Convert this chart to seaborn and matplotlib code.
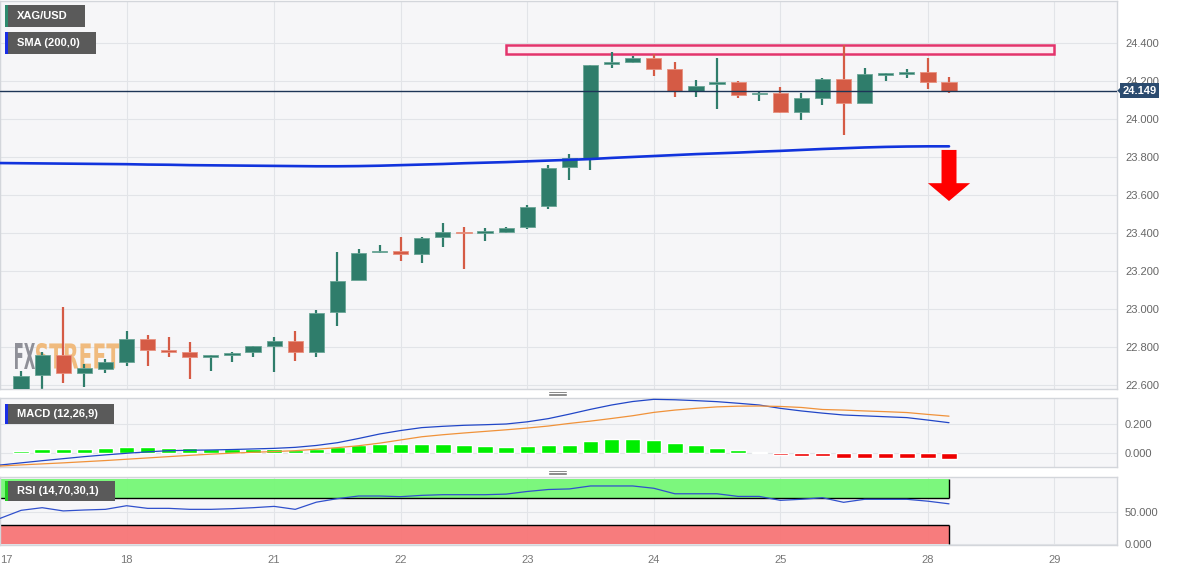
import numpy as np
import pandas as pd
import matplotlib
matplotlib.use('Agg')
import matplotlib.pyplot as plt
import seaborn as sns
from matplotlib.patches import Rectangle, FancyArrow, PathPatch, Polygon
from matplotlib.textpath import TextPath
from matplotlib.font_manager import FontProperties
from matplotlib.transforms import Affine2D, blended_transform_factory
from matplotlib.lines import Line2D

# XAG/USD 4h candles, first candle = 17th 04:00
opens = [22.570, 22.653, 22.758, 22.665, 22.684, 22.719, 22.841, 22.782, 22.774, 22.746,
         22.758, 22.774, 22.805, 22.832, 22.775, 22.983, 23.151, 23.298, 23.307, 23.289,
         23.377, 23.407, 23.400, 23.405, 23.430, 23.542, 23.746, 23.793, 24.289, 24.302,
         24.321, 24.262, 24.147, 24.183, 24.193, 24.130, 24.135, 24.038, 24.109, 24.209,
         24.086, 24.235, 24.238, 24.246, 24.193]
highs = [22.674, 22.775, 23.012, 22.709, 22.735, 22.884, 22.863, 22.854, 22.825, 22.758,
         22.775, 22.805, 22.854, 22.884, 22.995, 23.302, 23.316, 23.337, 23.377, 23.381,
         23.451, 23.433, 23.425, 23.430, 23.547, 23.756, 23.816, 24.283, 24.354, 24.332,
         24.342, 24.300, 24.205, 24.319, 24.200, 24.147, 24.167, 24.139, 24.214, 24.389,
         24.267, 24.242, 24.262, 24.319, 24.219]
lows = [22.540, 22.574, 22.612, 22.588, 22.665, 22.702, 22.702, 22.749, 22.632, 22.674,
        22.723, 22.749, 22.670, 22.728, 22.746, 22.912, 23.151, 23.296, 23.254, 23.244,
        23.325, 23.209, 23.360, 23.398, 23.423, 23.528, 23.679, 23.732, 24.267, 24.293,
        24.228, 24.118, 24.118, 24.053, 24.112, 24.095, 24.033, 23.995, 24.075, 23.916,
        24.083, 24.200, 24.217, 24.158, 24.139]
closes = [22.649, 22.758, 22.665, 22.691, 22.719, 22.841, 22.784, 22.777, 22.746, 22.758,
          22.770, 22.805, 22.832, 22.775, 22.981, 23.149, 23.293, 23.307, 23.291, 23.372,
          23.404, 23.398, 23.407, 23.426, 23.538, 23.740, 23.793, 24.283, 24.298, 24.319,
          24.265, 24.147, 24.175, 24.193, 24.126, 24.138, 24.038, 24.109, 24.211, 24.086,
          24.235, 24.242, 24.247, 24.196, 24.149]

# indicators start one candle earlier (17th 00:00, at the left edge)
sma200 = [23.768, 23.767, 23.766, 23.765, 23.764, 23.763, 23.762, 23.760, 23.759, 23.757,
          23.756, 23.755, 23.754, 23.753, 23.752, 23.751, 23.751, 23.752, 23.754, 23.757,
          23.760, 23.763, 23.767, 23.770, 23.773, 23.777, 23.781, 23.785, 23.789, 23.795,
          23.800, 23.805, 23.810, 23.815, 23.819, 23.823, 23.828, 23.832, 23.837, 23.842,
          23.846, 23.850, 23.853, 23.855, 23.856, 23.856]
macd_line = [-0.083, -0.068, -0.053, -0.039, -0.025, -0.013, -0.002, 0.008, 0.016, 0.019,
             0.021, 0.024, 0.028, 0.032, 0.039, 0.052, 0.071, 0.100, 0.131, 0.155,
             0.175, 0.184, 0.191, 0.195, 0.200, 0.215, 0.237, 0.268, 0.301, 0.331,
             0.355, 0.370, 0.367, 0.361, 0.354, 0.343, 0.331, 0.308, 0.290, 0.275,
             0.262, 0.256, 0.250, 0.244, 0.227, 0.209]
macd_signal = [-0.090, -0.082, -0.075, -0.068, -0.060, -0.052, -0.043, -0.034, -0.025, -0.016,
               -0.008, -0.001, 0.005, 0.010, 0.016, 0.026, 0.037, 0.050, 0.068, 0.090,
               0.112, 0.126, 0.138, 0.149, 0.160, 0.172, 0.186, 0.204, 0.220, 0.238,
               0.257, 0.280, 0.296, 0.308, 0.318, 0.323, 0.324, 0.321, 0.314, 0.300,
               0.296, 0.290, 0.285, 0.279, 0.266, 0.254]
macd_hist = [0.014, 0.028, 0.028, 0.030, 0.032, 0.041, 0.041, 0.037, 0.032, 0.028,
             0.025, 0.025, 0.025, 0.021, 0.030, 0.041, 0.055, 0.064, 0.064, 0.064,
             0.060, 0.055, 0.048, 0.041, 0.048, 0.053, 0.055, 0.083, 0.097, 0.099,
             0.090, 0.069, 0.053, 0.034, 0.018, 0.004, -0.014, -0.023, -0.023, -0.034,
             -0.034, -0.034, -0.034, -0.034, -0.041]
rsi = [39.5, 51.8, 55.8, 50.9, 52.3, 53.3, 58.8, 54.8, 54.8, 53.3,
       53.3, 54.3, 55.8, 57.8, 53.3, 64.2, 69.6, 73.6, 73.6, 72.6,
       74.6, 75.6, 75.6, 75.6, 76.5, 80.5, 83.5, 84.4, 88.9, 88.9,
       88.9, 85.4, 77.0, 77.0, 77.0, 73.0, 73.0, 67.0, 68.6, 71.0,
       64.0, 68.6, 68.6, 68.6, 65.7, 61.7]

day_labels = ['17', '18', '21', '22', '23', '24', '25', '28', '29']
day_first_candle = [-1, 5, 12, 18, 24, 30, 36, 43, 49]
last_price = 24.149
resist_low, resist_high = 24.342, 24.389
resist_from, resist_to = 23, 49

candles = pd.DataFrame({'open': opens, 'high': highs, 'low': lows, 'close': closes})
candles['i'] = np.arange(len(candles))
ind = pd.DataFrame({'i': np.arange(-1, len(candles)), 'sma': sma200,
                    'macd': macd_line, 'signal': macd_signal, 'rsi': rsi})

sns.set_theme(style='whitegrid')
plt.rcParams['font.family'] = ['Liberation Sans', 'DejaVu Sans']

W, H = 1182, 571
fig = plt.figure(figsize=(W / 100, H / 100), dpi=100)
fig.patch.set_facecolor('white')


def frame(top, bottom):
    return [0.0, 1 - bottom / H, 1117.3 / W, (bottom - top) / H]


ax = fig.add_axes(frame(1, 389.3))
ax_macd = fig.add_axes(frame(398.3, 467.3), sharex=ax)
ax_rsi = fig.add_axes(frame(476.7, 545), sharex=ax)

# --- watermark
fp = FontProperties(family='DejaVu Sans', weight='bold')


def stamp(txt, x0, x1, y0, y1, color):
    tp = TextPath((0, 0), txt, size=10, prop=fp)
    bb = tp.get_extents()
    tr = Affine2D().translate(-bb.x0, -bb.y0).scale((x1 - x0) / bb.width, (y1 - y0) / bb.height)
    tr = tr.translate(x0, H - y1)
    ax.add_patch(PathPatch(tp, transform=tr, fc=color, ec='none', alpha=0.95, zorder=1))


stamp('FX', 15, 35, 343, 369, '#8a8b93')
stamp('STREET', 36, 120, 343, 369, '#f0b878')

# --- candles
up = candles['close'] >= candles['open']
fill = np.where(up, '#2f7d6b', '#d55b45')
edge = np.where(up, '#6aa596', '#e8917f')
body = (candles['close'] - candles['open']).abs()
body_h = np.maximum(body, 0.009)
body_bottom = candles[['open', 'close']].min(axis=1) - (body_h - body) / 2
ax.vlines(candles['i'], candles['low'], candles['high'], colors=fill, lw=1.6, zorder=2)
ax.bar(candles['i'], body_h, bottom=body_bottom, width=0.72, color=fill,
       edgecolor=edge, linewidth=0.6, zorder=3)

ax.add_patch(Rectangle((resist_from, resist_low), resist_to - resist_from, resist_high - resist_low,
                       fc='#fdeaf1', ec='#e3346c', lw=1.8, zorder=1.5))
sns.lineplot(data=ind, x='i', y='sma', ax=ax, color='#1133dd', lw=1.9, zorder=4)
ax.axhline(last_price, color='#1d3557', lw=1, zorder=5)
ax.add_patch(FancyArrow(44, 23.837, 0, -0.269, width=0.71, head_width=2.0, head_length=0.094,
                        length_includes_head=True, color='#ff0000', lw=0, zorder=6))

# --- MACD
ax_macd.bar(candles['i'], macd_hist, width=0.73,
            color=np.where(np.array(macd_hist) >= 0, '#00ee00', '#ee0000'), zorder=2)
sns.lineplot(data=ind, x='i', y='macd', ax=ax_macd, color='#2146c7', lw=0.9, zorder=3)
sns.lineplot(data=ind, x='i', y='signal', ax=ax_macd, color='#f0923a', lw=0.9, zorder=3)

# --- RSI
last_i = candles['i'].iloc[-1]
ax_rsi.add_patch(Rectangle((-1, 70), last_i + 1, 30, fc='#76f876', ec='none', alpha=0.95, zorder=1))
ax_rsi.add_patch(Rectangle((-1, 0), last_i + 1, 30, fc='#f87676', ec='none', alpha=0.95, zorder=1))
ax_rsi.hlines([70, 30], -1, last_i, color='black', lw=1, zorder=2)
ax_rsi.vlines([last_i, last_i], [70, 0], [100, 30], color='black', lw=1, zorder=2)
sns.lineplot(data=ind, x='i', y='rsi', ax=ax_rsi, color='#3050cc', lw=0.9, zorder=3)

# --- styling
for a in (ax, ax_macd, ax_rsi):
    a.set_facecolor('#f6f6f8')
    a.set_xlabel('')
    a.set_ylabel('')
    for s in a.spines.values():
        s.set_color('#d3d6db')
        s.set_linewidth(1)
    a.yaxis.tick_right()
    a.tick_params(axis='y', length=0, labelsize=8, labelcolor='#666666', pad=5.5)
    a.tick_params(axis='x', length=0)
    a.grid(True, color='#e2e4e8', lw=0.8)
    a.set_xticks(day_first_candle)

ax.set_xlim(-1.0, 51.98)
ax.set_ylim(22.577, 24.621)
ax.set_yticks(np.arange(22.6, 24.41, 0.2))
ax.set_yticklabels([f'{v:.3f}' for v in np.arange(22.6, 24.41, 0.2)])
ax_macd.set_ylim(-0.0986, 0.3772)
ax_macd.set_yticks([0, 0.2])
ax_macd.set_yticklabels(['0.000', '0.200'])
ax_rsi.set_ylim(-1, 103)
ax_rsi.set_yticks([0, 50])
ax_rsi.set_yticklabels(['0.000', '50.000'])

plt.setp(ax.get_xticklabels(), visible=False)
plt.setp(ax_macd.get_xticklabels(), visible=False)
ax_rsi.set_xticklabels(day_labels)
ax_rsi.tick_params(axis='x', labelsize=8, labelcolor='#777777', pad=7)
ax_rsi.get_xticklabels()[0].set_ha('left')

# current price tag
bt = blended_transform_factory(ax.transAxes, ax.transData)
ax.text(1.0045, last_price, '24.149', transform=bt, clip_on=False, color='white',
        fontsize=8, fontweight='bold', va='center', ha='left', zorder=10,
        bbox=dict(boxstyle='square,pad=0.22', fc='#2b4b6f', ec='none'))
ax.add_patch(Polygon([(1.0, last_price), (1.0048, last_price + 0.028), (1.0048, last_price - 0.028)],
                     closed=True, transform=bt, clip_on=False, fc='#2b4b6f', ec='none', zorder=10))


# --- legend tags
def tag(x0, y0, x1, y1, bar, text):
    fig.add_artist(Rectangle((x0 / W, 1 - y1 / H), (x1 - x0) / W, (y1 - y0) / H,
                             transform=fig.transFigure, fc='#5a5a5a', ec='none', zorder=5))
    fig.add_artist(Rectangle((x0 / W, 1 - y1 / H), 2.5 / W, (y1 - y0) / H,
                             transform=fig.transFigure, fc=bar, ec='none', zorder=6))
    fig.text(17 / W, 1 - (y0 + y1) / 2 / H, text, color='white', fontsize=8,
             fontweight='bold', va='center', ha='left', zorder=7)


tag(5, 5, 85, 27, '#2e8b6e', 'XAG/USD')
tag(5, 32, 96, 54, '#1a2ee6', 'SMA (200,0)')
tag(5, 404, 114, 424, '#1a2ee6', 'MACD (12,26,9)')
tag(5, 481, 115, 501, '#22cc22', 'RSI (14,70,30,1)')

# panel resize handles
for yy in (393.5, 472.5):
    for dy in (-1.5, 0, 1.5):
        fig.add_artist(Line2D([549 / W, 566 / W], [1 - (yy + dy) / H] * 2,
                              transform=fig.transFigure, color='#8a8a8a', lw=0.7))

fig.savefig('out.png', dpi=100, facecolor='white')
